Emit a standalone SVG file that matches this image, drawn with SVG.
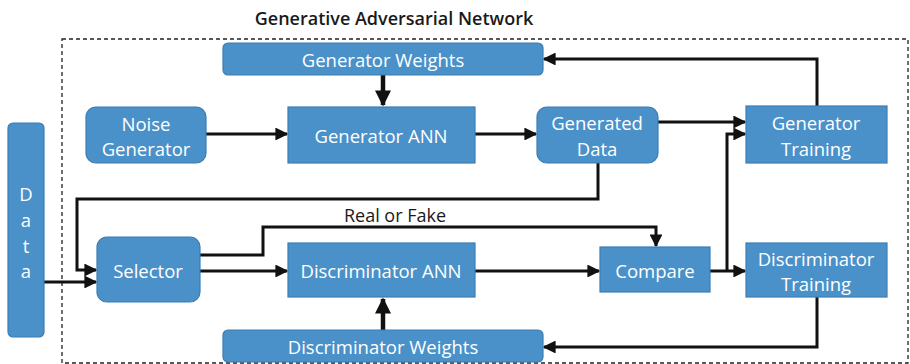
<svg xmlns="http://www.w3.org/2000/svg" width="910" height="364" viewBox="0 0 910 364">
<style>
.n{fill:#4a91c9;stroke:#3b7db3;stroke-width:1.2}
.t{font-family:"Open Sans","Liberation Sans",sans-serif;font-size:18.5px;fill:#fff;text-anchor:middle;dominant-baseline:central}
.l{fill:none;stroke:#111;stroke-width:3}
.k{fill:none;stroke:#111;stroke-width:4.5}
.lab{font-family:"Open Sans","Liberation Sans",sans-serif;font-size:18px;fill:#1a1a1a;text-anchor:middle}
</style>
<defs>
<marker id="a" viewBox="0 0 10 10" refX="9" refY="5" markerWidth="4.3" markerHeight="4.3" orient="auto" markerUnits="strokeWidth"><path d="M0,0L10,5L0,10z" fill="#111"/></marker>
<marker id="b" viewBox="0 0 10 10" refX="9" refY="5" markerWidth="3.6" markerHeight="3.6" orient="auto" markerUnits="strokeWidth"><path d="M0,0L10,5L0,10z" fill="#111"/></marker>
</defs>
<rect width="910" height="364" fill="#fff"/>
<text x="394" y="25" class="lab" style="font-weight:600;font-size:18px">Generative Adversarial Network</text>
<rect x="62" y="39" width="846" height="324" fill="none" stroke="#222" stroke-width="1.3" stroke-dasharray="4,3"/>

<g id="connectors">
<path class="k" d="M383,75V105" marker-end="url(#b)"/>
<path class="k" d="M383,330V299" marker-end="url(#b)"/>
<path class="l" d="M206,134H287" marker-end="url(#a)"/>
<path class="l" d="M475,134H536" marker-end="url(#a)"/>
<path class="l" d="M658,122H745" marker-end="url(#a)"/>
<path class="l" d="M817,106V59H544" marker-end="url(#a)"/>
<path class="l" d="M598,163V199H77V270H96" marker-end="url(#a)"/>
<path class="l" d="M44,282H96" marker-end="url(#a)"/>
<path class="l" d="M200,255H263V227H656V246" marker-end="url(#a)"/>
<path class="l" d="M200,271H287" marker-end="url(#a)"/>
<path class="l" d="M475,271H599" marker-end="url(#a)"/>
<path class="l" d="M710,271H745" marker-end="url(#a)"/>
<path class="l" d="M727,271V134H745" marker-end="url(#a)"/>
<path class="l" d="M817,297V347H544" marker-end="url(#a)"/>
</g>
<text x="395" y="222" class="lab">Real or Fake</text>

<g id="generator-weights"><rect class="n" x="223" y="43" width="320" height="32" rx="5"/><text class="t" x="383" y="59">Generator Weights</text></g>
<g id="noise-generator"><rect class="n" x="86" y="107" width="120" height="56" rx="10"/><text class="t" x="146" y="123">Noise</text><text class="t" x="146" y="148">Generator</text></g>
<g id="generator-ann"><rect class="n" x="288" y="107" width="187" height="56"/><text class="t" x="381" y="135">Generator ANN</text></g>
<g id="generated-data"><rect class="n" x="537" y="107" width="121" height="56" rx="10"/><text class="t" x="597" y="122">Generated</text><text class="t" x="597" y="148">Data</text></g>
<g id="generator-training"><rect class="n" x="746" y="106" width="141" height="57"/><text class="t" x="816" y="122">Generator</text><text class="t" x="816" y="148">Training</text></g>
<g id="data"><rect class="n" x="8" y="123" width="36" height="214" rx="5"/><text class="t" x="26" y="193">D</text><text class="t" x="26" y="219">a</text><text class="t" x="26" y="245">t</text><text class="t" x="26" y="270">a</text></g>
<g id="selector"><rect class="n" x="97" y="237" width="103" height="65" rx="10"/><text class="t" x="148" y="270">Selector</text></g>
<g id="discriminator-ann"><rect class="n" x="288" y="243" width="187" height="54"/><text class="t" x="381" y="270">Discriminator ANN</text></g>
<g id="compare"><rect class="n" x="600" y="247" width="110" height="45"/><text class="t" x="655" y="270">Compare</text></g>
<g id="discriminator-training"><rect class="n" x="746" y="243" width="141" height="54"/><text class="t" x="816" y="258">Discriminator</text><text class="t" x="816" y="283">Training</text></g>
<g id="discriminator-weights"><rect class="n" x="223" y="330" width="320" height="32" rx="5"/><text class="t" x="383" y="346">Discriminator Weights</text></g>
</svg>
